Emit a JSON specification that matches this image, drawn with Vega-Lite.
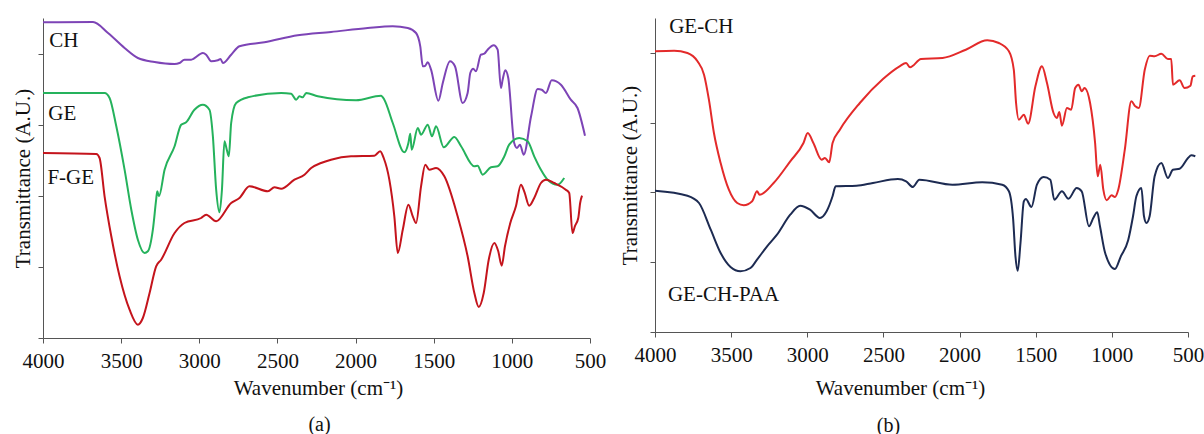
{
 "$schema": "https://vega.github.io/schema/vega-lite/v6.json",
 "background": "white",
 "padding": {"left": 12, "top": 15, "right": 0, "bottom": 0},
 "spacing": 13,
 "resolve": {"scale": {"color": "independent"}},
 "config": {
  "view": {"stroke": null},
  "font": "Liberation Serif",
  "axis": {"grid": false, "domainColor": "#555", "tickColor": "#555", "tickSize": 5, "labelFont": "Liberation Serif", "labelFontSize": 21, "labelColor": "#111", "titleFont": "Liberation Serif", "titleFontSize": 21, "titleFontWeight": "normal", "titleColor": "#111"},
  "title": {"font": "Liberation Serif", "fontSize": 20, "fontWeight": "normal", "color": "#111"}
 },
 "datasets": {
  "a": [
   {"s":"CH","wn":4000,"t":315.7},{"s":"CH","wn":3680,"t":316},{"s":"CH","wn":3584,"t":305},{"s":"CH","wn":3478,"t":290},{"s":"CH","wn":3393,"t":280},{"s":"CH","wn":3286,"t":276},{"s":"CH","wn":3158,"t":274},{"s":"CH","wn":3127,"t":275},{"s":"CH","wn":3095,"t":278.3},{"s":"CH","wn":3052,"t":278.3},{"s":"CH","wn":2977,"t":285},{"s":"CH","wn":2956,"t":283.3},{"s":"CH","wn":2924,"t":276.7},{"s":"CH","wn":2881,"t":277.7},{"s":"CH","wn":2864,"t":279},{"s":"CH","wn":2849,"t":275},{"s":"CH","wn":2796,"t":283.3},{"s":"CH","wn":2743,"t":291.7},{"s":"CH","wn":2583,"t":295.7},{"s":"CH","wn":2370,"t":302.7},{"s":"CH","wn":2157,"t":306},{"s":"CH","wn":1922,"t":310},{"s":"CH","wn":1762,"t":311.7},{"s":"CH","wn":1666,"t":310},{"s":"CH","wn":1613,"t":305},{"s":"CH","wn":1586,"t":291.7},{"s":"CH","wn":1570,"t":271.7},{"s":"CH","wn":1556,"t":272},{"s":"CH","wn":1538,"t":275.7},{"s":"CH","wn":1517,"t":268.3},{"s":"CH","wn":1470,"t":237.3},{"s":"CH","wn":1442,"t":255},{"s":"CH","wn":1396,"t":276.7},{"s":"CH","wn":1364,"t":271.7},{"s":"CH","wn":1315,"t":235},{"s":"CH","wn":1283,"t":245},{"s":"CH","wn":1266,"t":265},{"s":"CH","wn":1247,"t":269.3},{"s":"CH","wn":1230,"t":266.7},{"s":"CH","wn":1198,"t":283.3},{"s":"CH","wn":1176,"t":284.3},{"s":"CH","wn":1155,"t":288.3},{"s":"CH","wn":1116,"t":292.7},{"s":"CH","wn":1091,"t":288.3},{"s":"CH","wn":1070,"t":250},{"s":"CH","wn":1059,"t":258.3},{"s":"CH","wn":1042,"t":267.7},{"s":"CH","wn":1023,"t":260},{"s":"CH","wn":985,"t":195},{"s":"CH","wn":967,"t":190},{"s":"CH","wn":948,"t":193.3},{"s":"CH","wn":924,"t":183.3},{"s":"CH","wn":877,"t":221.7},{"s":"CH","wn":835,"t":249},{"s":"CH","wn":809,"t":248.3},{"s":"CH","wn":782,"t":245},{"s":"CH","wn":745,"t":257.7},{"s":"CH","wn":686,"t":253.3},{"s":"CH","wn":623,"t":238.3},{"s":"CH","wn":580,"t":230},{"s":"CH","wn":532,"t":202.3},
   {"s":"GE","wn":4000,"t":245},{"s":"GE","wn":3606,"t":245},{"s":"GE","wn":3574,"t":240},{"s":"GE","wn":3531,"t":211.7},{"s":"GE","wn":3478,"t":168.3},{"s":"GE","wn":3435,"t":128.3},{"s":"GE","wn":3393,"t":98.3},{"s":"GE","wn":3350,"t":85},{"s":"GE","wn":3329,"t":86.7},{"s":"GE","wn":3297,"t":108.3},{"s":"GE","wn":3276,"t":138.3},{"s":"GE","wn":3269,"t":146.7},{"s":"GE","wn":3258,"t":141.7},{"s":"GE","wn":3222,"t":168.3},{"s":"GE","wn":3158,"t":191.7},{"s":"GE","wn":3116,"t":213.3},{"s":"GE","wn":3084,"t":215.7},{"s":"GE","wn":3031,"t":228.3},{"s":"GE","wn":2977,"t":233.3},{"s":"GE","wn":2935,"t":228.3},{"s":"GE","wn":2913,"t":201.7},{"s":"GE","wn":2892,"t":148.3},{"s":"GE","wn":2871,"t":125.7},{"s":"GE","wn":2855,"t":148.3},{"s":"GE","wn":2839,"t":196.7},{"s":"GE","wn":2824,"t":188.3},{"s":"GE","wn":2811,"t":181.7},{"s":"GE","wn":2796,"t":215},{"s":"GE","wn":2764,"t":235},{"s":"GE","wn":2689,"t":240.7},{"s":"GE","wn":2476,"t":245},{"s":"GE","wn":2412,"t":244.3},{"s":"GE","wn":2380,"t":238.3},{"s":"GE","wn":2359,"t":241.7},{"s":"GE","wn":2338,"t":240.7},{"s":"GE","wn":2316,"t":245},{"s":"GE","wn":2242,"t":241.7},{"s":"GE","wn":1997,"t":237.7},{"s":"GE","wn":1837,"t":242.3},{"s":"GE","wn":1816,"t":238.3},{"s":"GE","wn":1762,"t":215},{"s":"GE","wn":1688,"t":185.7},{"s":"GE","wn":1662,"t":195},{"s":"GE","wn":1650,"t":204.3},{"s":"GE","wn":1641,"t":188.3},{"s":"GE","wn":1602,"t":210},{"s":"GE","wn":1581,"t":203.3},{"s":"GE","wn":1538,"t":213.3},{"s":"GE","wn":1511,"t":201.7},{"s":"GE","wn":1485,"t":211.7},{"s":"GE","wn":1436,"t":190.7},{"s":"GE","wn":1368,"t":201},{"s":"GE","wn":1325,"t":191.7},{"s":"GE","wn":1240,"t":171.7},{"s":"GE","wn":1219,"t":172.3},{"s":"GE","wn":1187,"t":163.3},{"s":"GE","wn":1134,"t":170.7},{"s":"GE","wn":1091,"t":171.7},{"s":"GE","wn":1048,"t":181.7},{"s":"GE","wn":1017,"t":193.3},{"s":"GE","wn":953,"t":200},{"s":"GE","wn":899,"t":196.7},{"s":"GE","wn":857,"t":181.7},{"s":"GE","wn":814,"t":168.3},{"s":"GE","wn":771,"t":158.3},{"s":"GE","wn":707,"t":153.3},{"s":"GE","wn":665,"t":160},
   {"s":"F-GE","wn":4000,"t":185},{"s":"F-GE","wn":3659,"t":184},{"s":"F-GE","wn":3638,"t":180},{"s":"F-GE","wn":3606,"t":141.7},{"s":"F-GE","wn":3563,"t":101.7},{"s":"F-GE","wn":3510,"t":61.7},{"s":"F-GE","wn":3446,"t":28.3},{"s":"F-GE","wn":3393,"t":13.3},{"s":"F-GE","wn":3361,"t":20},{"s":"F-GE","wn":3318,"t":45},{"s":"F-GE","wn":3276,"t":71.7},{"s":"F-GE","wn":3244,"t":78.3},{"s":"F-GE","wn":3158,"t":105},{"s":"F-GE","wn":3095,"t":115},{"s":"F-GE","wn":2988,"t":120},{"s":"F-GE","wn":2956,"t":123.3},{"s":"F-GE","wn":2892,"t":116.7},{"s":"F-GE","wn":2796,"t":135},{"s":"F-GE","wn":2743,"t":140},{"s":"F-GE","wn":2679,"t":151.7},{"s":"F-GE","wn":2561,"t":146.7},{"s":"F-GE","wn":2519,"t":150.7},{"s":"F-GE","wn":2476,"t":149.3},{"s":"F-GE","wn":2391,"t":158.3},{"s":"F-GE","wn":2327,"t":163.3},{"s":"F-GE","wn":2284,"t":170},{"s":"F-GE","wn":2221,"t":175},{"s":"F-GE","wn":2157,"t":178.3},{"s":"F-GE","wn":2029,"t":181.7},{"s":"F-GE","wn":1880,"t":182.3},{"s":"F-GE","wn":1843,"t":186.7},{"s":"F-GE","wn":1820,"t":180},{"s":"F-GE","wn":1784,"t":158.3},{"s":"F-GE","wn":1752,"t":121.7},{"s":"F-GE","wn":1730,"t":85},{"s":"F-GE","wn":1698,"t":108.3},{"s":"F-GE","wn":1662,"t":133.3},{"s":"F-GE","wn":1634,"t":121.7},{"s":"F-GE","wn":1613,"t":115},{"s":"F-GE","wn":1581,"t":151.7},{"s":"F-GE","wn":1554,"t":173.3},{"s":"F-GE","wn":1528,"t":168.3},{"s":"F-GE","wn":1485,"t":170},{"s":"F-GE","wn":1432,"t":161.7},{"s":"F-GE","wn":1347,"t":121.7},{"s":"F-GE","wn":1283,"t":81.7},{"s":"F-GE","wn":1240,"t":45},{"s":"F-GE","wn":1212,"t":31},{"s":"F-GE","wn":1180,"t":45},{"s":"F-GE","wn":1148,"t":78.3},{"s":"F-GE","wn":1112,"t":95},{"s":"F-GE","wn":1087,"t":86.7},{"s":"F-GE","wn":1065,"t":72.3},{"s":"F-GE","wn":1044,"t":91.7},{"s":"F-GE","wn":1010,"t":115},{"s":"F-GE","wn":974,"t":131.7},{"s":"F-GE","wn":942,"t":153.3},{"s":"F-GE","wn":921,"t":146.7},{"s":"F-GE","wn":889,"t":132.3},{"s":"F-GE","wn":857,"t":140},{"s":"F-GE","wn":814,"t":155},{"s":"F-GE","wn":782,"t":158.3},{"s":"F-GE","wn":729,"t":155},{"s":"F-GE","wn":655,"t":148.3},{"s":"F-GE","wn":633,"t":145},{"s":"F-GE","wn":612,"t":105},{"s":"F-GE","wn":597,"t":111.7},{"s":"F-GE","wn":575,"t":120},{"s":"F-GE","wn":563,"t":135},{"s":"F-GE","wn":551,"t":142.3}
  ],
  "al": [
   {"label":"CH","wn":3960,"t":297},{"label":"GE","wn":3966,"t":224},{"label":"F-GE","wn":3972,"t":160}
  ],
  "b": [
   {"s":"GE-CH","wn":4000,"t":280.7},{"s":"GE-CH","wn":3874,"t":281.3},{"s":"GE-CH","wn":3787,"t":279},{"s":"GE-CH","wn":3721,"t":270.7},{"s":"GE-CH","wn":3678,"t":257.3},{"s":"GE-CH","wn":3646,"t":232.3},{"s":"GE-CH","wn":3613,"t":199},{"s":"GE-CH","wn":3569,"t":169},{"s":"GE-CH","wn":3515,"t":142.3},{"s":"GE-CH","wn":3460,"t":129},{"s":"GE-CH","wn":3417,"t":126.7},{"s":"GE-CH","wn":3362,"t":130.7},{"s":"GE-CH","wn":3330,"t":140.7},{"s":"GE-CH","wn":3313,"t":137.3},{"s":"GE-CH","wn":3221,"t":149},{"s":"GE-CH","wn":3112,"t":170.7},{"s":"GE-CH","wn":3025,"t":189},{"s":"GE-CH","wn":2997,"t":199},{"s":"GE-CH","wn":2960,"t":189},{"s":"GE-CH","wn":2906,"t":172.3},{"s":"GE-CH","wn":2884,"t":174},{"s":"GE-CH","wn":2856,"t":169.7},{"s":"GE-CH","wn":2834,"t":189},{"s":"GE-CH","wn":2786,"t":202.3},{"s":"GE-CH","wn":2655,"t":229},{"s":"GE-CH","wn":2503,"t":253},{"s":"GE-CH","wn":2394,"t":265.7},{"s":"GE-CH","wn":2351,"t":269},{"s":"GE-CH","wn":2325,"t":264.7},{"s":"GE-CH","wn":2253,"t":273},{"s":"GE-CH","wn":2112,"t":274},{"s":"GE-CH","wn":1959,"t":282.3},{"s":"GE-CH","wn":1818,"t":291.7},{"s":"GE-CH","wn":1742,"t":289},{"s":"GE-CH","wn":1676,"t":280.7},{"s":"GE-CH","wn":1644,"t":262.3},{"s":"GE-CH","wn":1629,"t":229},{"s":"GE-CH","wn":1611,"t":212.3},{"s":"GE-CH","wn":1578,"t":217.3},{"s":"GE-CH","wn":1550,"t":208.3},{"s":"GE-CH","wn":1502,"t":245.7},{"s":"GE-CH","wn":1459,"t":265.7},{"s":"GE-CH","wn":1426,"t":249},{"s":"GE-CH","wn":1383,"t":219},{"s":"GE-CH","wn":1361,"t":214},{"s":"GE-CH","wn":1345,"t":220},{"s":"GE-CH","wn":1328,"t":206.3},{"s":"GE-CH","wn":1295,"t":224},{"s":"GE-CH","wn":1267,"t":222.3},{"s":"GE-CH","wn":1241,"t":244},{"s":"GE-CH","wn":1219,"t":247.3},{"s":"GE-CH","wn":1198,"t":240.7},{"s":"GE-CH","wn":1180,"t":244},{"s":"GE-CH","wn":1143,"t":229},{"s":"GE-CH","wn":1110,"t":189},{"s":"GE-CH","wn":1093,"t":155.7},{"s":"GE-CH","wn":1076,"t":167.3},{"s":"GE-CH","wn":1056,"t":142.3},{"s":"GE-CH","wn":1034,"t":131.7},{"s":"GE-CH","wn":1002,"t":136.7},{"s":"GE-CH","wn":980,"t":135},{"s":"GE-CH","wn":958,"t":142.3},{"s":"GE-CH","wn":915,"t":182.3},{"s":"GE-CH","wn":872,"t":230.7},{"s":"GE-CH","wn":846,"t":225.7},{"s":"GE-CH","wn":823,"t":224},{"s":"GE-CH","wn":784,"t":262.3},{"s":"GE-CH","wn":751,"t":276.3},{"s":"GE-CH","wn":719,"t":275.7},{"s":"GE-CH","wn":675,"t":278.3},{"s":"GE-CH","wn":632,"t":273},{"s":"GE-CH","wn":610,"t":273},{"s":"GE-CH","wn":599,"t":247.3},{"s":"GE-CH","wn":555,"t":251.7},{"s":"GE-CH","wn":523,"t":244},{"s":"GE-CH","wn":484,"t":246.3},{"s":"GE-CH","wn":469,"t":255.7},{"s":"GE-CH","wn":452,"t":256.3},
   {"s":"PAA","wn":4000,"t":141.3},{"s":"PAA","wn":3787,"t":136.3},{"s":"PAA","wn":3711,"t":129},{"s":"PAA","wn":3634,"t":102.3},{"s":"PAA","wn":3569,"t":79},{"s":"PAA","wn":3504,"t":65},{"s":"PAA","wn":3439,"t":60.7},{"s":"PAA","wn":3373,"t":64},{"s":"PAA","wn":3330,"t":72.3},{"s":"PAA","wn":3264,"t":85.7},{"s":"PAA","wn":3199,"t":97.3},{"s":"PAA","wn":3112,"t":117.3},{"s":"PAA","wn":3047,"t":126.3},{"s":"PAA","wn":2982,"t":122.3},{"s":"PAA","wn":2917,"t":114},{"s":"PAA","wn":2873,"t":120.7},{"s":"PAA","wn":2834,"t":135.7},{"s":"PAA","wn":2814,"t":145.7},{"s":"PAA","wn":2677,"t":146.3},{"s":"PAA","wn":2569,"t":149},{"s":"PAA","wn":2405,"t":153},{"s":"PAA","wn":2351,"t":150.7},{"s":"PAA","wn":2307,"t":145},{"s":"PAA","wn":2264,"t":152.3},{"s":"PAA","wn":2047,"t":147.3},{"s":"PAA","wn":1851,"t":149.7},{"s":"PAA","wn":1720,"t":147.3},{"s":"PAA","wn":1676,"t":140.7},{"s":"PAA","wn":1648,"t":112.3},{"s":"PAA","wn":1633,"t":75.7},{"s":"PAA","wn":1618,"t":61.3},{"s":"PAA","wn":1600,"t":89},{"s":"PAA","wn":1578,"t":130.7},{"s":"PAA","wn":1565,"t":133},{"s":"PAA","wn":1528,"t":125},{"s":"PAA","wn":1492,"t":147.3},{"s":"PAA","wn":1448,"t":155},{"s":"PAA","wn":1404,"t":152.3},{"s":"PAA","wn":1378,"t":132.3},{"s":"PAA","wn":1328,"t":140.7},{"s":"PAA","wn":1285,"t":133.3},{"s":"PAA","wn":1231,"t":144},{"s":"PAA","wn":1198,"t":140.7},{"s":"PAA","wn":1150,"t":105.7},{"s":"PAA","wn":1122,"t":114},{"s":"PAA","wn":1096,"t":119.7},{"s":"PAA","wn":1078,"t":105.7},{"s":"PAA","wn":1044,"t":79},{"s":"PAA","wn":980,"t":63},{"s":"PAA","wn":941,"t":75.7},{"s":"PAA","wn":893,"t":91.7},{"s":"PAA","wn":861,"t":115.7},{"s":"PAA","wn":839,"t":135.7},{"s":"PAA","wn":806,"t":144},{"s":"PAA","wn":789,"t":115.7},{"s":"PAA","wn":773,"t":109},{"s":"PAA","wn":752,"t":115.7},{"s":"PAA","wn":719,"t":155.7},{"s":"PAA","wn":675,"t":169},{"s":"PAA","wn":632,"t":154},{"s":"PAA","wn":599,"t":162.3},{"s":"PAA","wn":555,"t":163.3},{"s":"PAA","wn":500,"t":174},{"s":"PAA","wn":478,"t":176.7},{"s":"PAA","wn":452,"t":175.7}
  ],
  "bl": [
   {"label":"GE-CH","wn":3907,"t":305},{"label":"GE-CH-PAA","wn":3915,"t":37}
  ]
 },
 "hconcat": [
  {
   "width": 547, "height": 320,
   "title": {"text": "(a)", "orient": "bottom", "anchor": "middle", "frame": "group", "offset": 17, "dx": 3},
   "layer": [
    {
     "data": {"name": "a"},
     "mark": {"type": "line", "strokeWidth": 2, "interpolate": "monotone", "clip": false},
     "encoding": {
      "x": {"field": "wn", "type": "quantitative",
            "scale": {"domain": [500, 4000], "reverse": true, "nice": false, "zero": false},
            "axis": {"values": [4000,3750,3500,3250,3000,2750,2500,2250,2000,1750,1500,1250,1000,750,500], "format": "d", "labelExpr": "datum.value % 500 === 0 ? datum.label : ''", "labelPadding": 7, "labelFlush": false, "labelOverlap": false, "title": "Wavenumber (cm⁻¹)", "titlePadding": 6, "titleX": 275}},
      "y": {"field": "t", "type": "quantitative",
            "scale": {"domain": [0, 320], "nice": false, "zero": false},
            "axis": {"values": [0,35.56,71.11,106.67,142.22,177.78,213.33,248.89,284.44,320], "labels": false, "title": "Transmittance (A.U.)", "titlePadding": 4}},
      "color": {"field": "s", "type": "nominal", "scale": {"domain": ["CH","GE","F-GE"], "range": ["#7D44B6","#25B25C","#C4141C"]}, "legend": null}
     }
    },
    {
     "data": {"name": "al"},
     "mark": {"type": "text", "align": "left", "baseline": "middle", "fontSize": 21, "font": "Liberation Serif", "color": "#111"},
     "encoding": {
      "x": {"field": "wn", "type": "quantitative"},
      "y": {"field": "t", "type": "quantitative"},
      "text": {"field": "label"}
     }
    }
   ]
  },
  {
   "width": 533, "height": 314,
   "title": {"text": "(b)", "orient": "bottom", "anchor": "middle", "frame": "group", "offset": 18, "dx": -33},
   "layer": [
    {
     "data": {"name": "b"},
     "mark": {"type": "line", "strokeWidth": 2, "interpolate": "monotone", "clip": false},
     "encoding": {
      "x": {"field": "wn", "type": "quantitative",
            "scale": {"domain": [500, 4000], "reverse": true, "nice": false, "zero": false},
            "axis": {"values": [4000,3750,3500,3250,3000,2750,2500,2250,2000,1750,1500,1250,1000,750,500], "format": "d", "labelExpr": "datum.value % 500 === 0 ? datum.label : ''", "labelPadding": 7, "labelFlush": false, "labelOverlap": false, "title": "Wavenumber (cm⁻¹)", "titlePadding": 12, "titleX": 245}},
      "y": {"field": "t", "type": "quantitative",
            "scale": {"domain": [0, 314], "nice": false, "zero": false},
            "axis": {"values": [0,34.89,69.78,104.67,139.56,174.44,209.33,244.22,279.11,314], "labels": false, "title": "Transmittance (A.U.)", "titlePadding": 9}},
      "color": {"field": "s", "type": "nominal", "scale": {"domain": ["GE-CH","PAA"], "range": ["#E32A2A","#1D2B52"]}, "legend": null}
     }
    },
    {
     "data": {"name": "bl"},
     "mark": {"type": "text", "align": "left", "baseline": "middle", "fontSize": 21, "font": "Liberation Serif", "color": "#111"},
     "encoding": {
      "x": {"field": "wn", "type": "quantitative"},
      "y": {"field": "t", "type": "quantitative"},
      "text": {"field": "label"}
     }
    }
   ]
  }
 ]
}
